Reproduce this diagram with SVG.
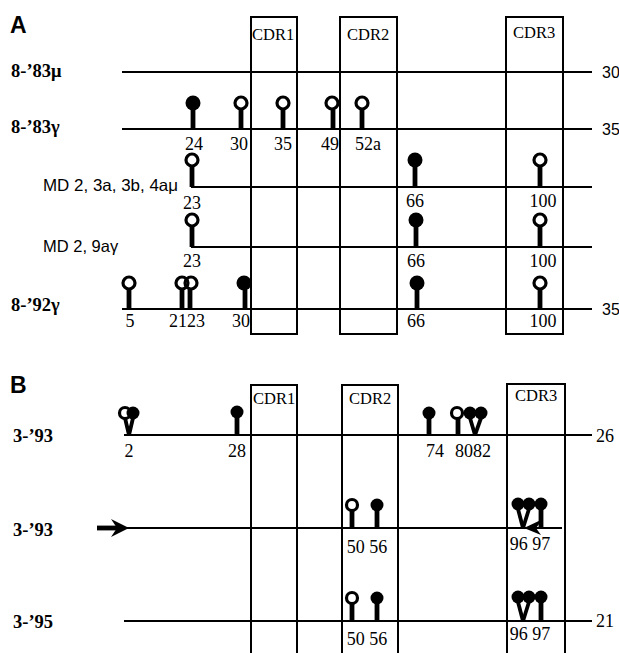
<svg xmlns="http://www.w3.org/2000/svg" width="619" height="653" viewBox="0 0 619 653">
<style>
.ln{stroke:#000;stroke-width:1.8;fill:none}
.box{stroke:#000;stroke-width:2;fill:none}
.st{stroke:#000;stroke-width:4.8;fill:none}
.vs{stroke:#000;stroke-width:3.8;fill:none}
.f{fill:#000}
.o{fill:none;stroke:#000;stroke-width:3.2}
.cdr{font-family:"Liberation Serif",serif;font-size:16.5px}
.num{font-family:"Liberation Serif",serif;font-size:18px;text-anchor:middle}
.lab{font-family:"Liberation Serif",serif;font-size:18.5px;font-weight:bold}
.sans{font-family:"Liberation Sans",sans-serif;font-size:16px}
.md{font-family:"Liberation Sans",sans-serif;font-size:16.5px}
.big{font-family:"Liberation Sans",sans-serif;font-size:23px;font-weight:bold}
</style>
<rect width="619" height="653" fill="#fff"/>
<!-- Panel A -->
<g id="panelA">
<text class="big" x="10" y="33">A</text>
<g id="A-cdr1"><rect class="box" x="251" y="17" width="46" height="317"/><text class="cdr" x="252" y="40">CDR1</text></g>
<g id="A-cdr2"><rect class="box" x="340" y="17" width="57" height="317"/><text class="cdr" x="347" y="40">CDR2</text></g>
<g id="A-cdr3"><rect class="box" x="506" y="17" width="57" height="317"/><text class="cdr" x="513" y="38">CDR3</text></g>

<g id="A-row1">
<text class="lab" x="11" y="77">8-’83μ</text>
<line class="ln" x1="122" y1="72" x2="592" y2="72"/>
<text class="sans" x="602" y="78">30</text>
</g>

<g id="A-row2">
<text class="lab" x="11" y="133">8-’83γ</text>
<line class="ln" x1="122" y1="129" x2="592" y2="129"/>
<text class="sans" x="602" y="135">35</text>
<line class="st" x1="193" y1="129" x2="193" y2="110"/><circle class="f" cx="193" cy="103" r="7.5"/>
<line class="st" x1="241" y1="129" x2="241" y2="110"/><circle class="o" cx="241" cy="103" r="6"/>
<line class="st" x1="283" y1="129" x2="283" y2="110"/><circle class="o" cx="283" cy="103" r="6"/>
<line class="st" x1="333" y1="129" x2="333" y2="110"/><circle class="o" cx="332" cy="103" r="6"/>
<line class="st" x1="362" y1="129" x2="362" y2="110"/><circle class="o" cx="362" cy="103" r="6"/>
<text class="num" x="194" y="150">24</text>
<text class="num" x="239" y="150">30</text>
<text class="num" x="283" y="150">35</text>
<text class="num" x="330" y="150">49</text>
<text class="num" x="368" y="150">52a</text>
</g>

<g id="A-row3">
<text class="md" x="43" y="191" textLength="135" lengthAdjust="spacingAndGlyphs">MD 2, 3a, 3b, 4aμ</text>
<line class="ln" x1="191" y1="187" x2="592" y2="187"/>
<line class="st" x1="192" y1="187" x2="192" y2="167"/><circle class="o" cx="192" cy="160" r="6"/>
<line class="st" x1="415" y1="187" x2="415" y2="167"/><circle class="f" cx="415" cy="160" r="7.5"/>
<line class="st" x1="540" y1="187" x2="540" y2="167"/><circle class="o" cx="540" cy="160" r="6"/>
<text class="num" x="192" y="209">23</text>
<text class="num" x="415" y="207">66</text>
<text class="num" x="543" y="207">100</text>
</g>

<g id="A-row4">
<text class="md" x="43" y="252">MD 2, 9aγ</text>
<line class="ln" x1="191" y1="247" x2="592" y2="247"/>
<line class="st" x1="192" y1="247" x2="192" y2="227"/><circle class="o" cx="192" cy="220" r="6"/>
<line class="st" x1="416" y1="247" x2="416" y2="227"/><circle class="f" cx="416" cy="220" r="7.5"/>
<line class="st" x1="540" y1="247" x2="540" y2="227"/><circle class="o" cx="540" cy="220" r="6"/>
<text class="num" x="192" y="267">23</text>
<text class="num" x="416" y="267">66</text>
<text class="num" x="543" y="267">100</text>
</g>

<g id="A-row5">
<text class="lab" x="11" y="311">8-’92γ</text>
<line class="ln" x1="122" y1="309" x2="592" y2="309"/>
<text class="sans" x="602" y="315">35</text>
<line class="st" x1="129" y1="309" x2="129" y2="290"/><circle class="o" cx="129" cy="283" r="6"/>
<line class="st" x1="182" y1="309" x2="182" y2="290"/><circle class="o" cx="182" cy="283" r="6"/>
<line class="st" x1="190" y1="309" x2="190" y2="290"/><circle class="o" cx="191" cy="283" r="6"/>
<line class="st" x1="245" y1="309" x2="245" y2="290"/><circle class="f" cx="244" cy="283" r="7.5"/>
<line class="st" x1="417" y1="309" x2="417" y2="290"/><circle class="f" cx="417" cy="283" r="7.5"/>
<line class="st" x1="540" y1="309" x2="540" y2="290"/><circle class="o" cx="540" cy="283" r="6"/>
<text class="num" x="130" y="327">5</text>
<text class="num" x="187" y="327">2123</text>
<text class="num" x="241" y="327">30</text>
<text class="num" x="416" y="327">66</text>
<text class="num" x="543" y="327">100</text>
</g>
</g>

<!-- Panel B -->
<g id="panelB">
<text class="big" x="10" y="393">B</text>
<g id="B-cdr1"><rect class="box" x="251" y="385" width="46" height="280"/><text class="cdr" x="253" y="404">CDR1</text></g>
<g id="B-cdr2"><rect class="box" x="342" y="385" width="56" height="280"/><text class="cdr" x="349" y="404">CDR2</text></g>
<g id="B-cdr3"><rect class="box" x="507" y="384" width="58" height="280"/><text class="cdr" x="515" y="401">CDR3</text></g>

<g id="B-row1">
<text class="lab" x="13" y="442">3-’93</text>
<line class="ln" x1="124" y1="435" x2="592" y2="435"/>
<text class="num" x="605" y="442">26</text>
<line class="vs" x1="125" y1="418" x2="129" y2="435"/><line class="vs" x1="133" y1="418" x2="129" y2="435"/>
<circle class="o" cx="125" cy="413" r="5.5"/><circle class="f" cx="133" cy="413" r="6.5"/>
<line class="st" x1="237" y1="435" x2="237" y2="418"/><circle class="f" cx="237" cy="412" r="6.5"/>
<line class="st" x1="429" y1="435" x2="429" y2="418"/><circle class="f" cx="429" cy="413" r="6.5"/>
<line class="st" x1="458" y1="435" x2="458" y2="418"/><circle class="o" cx="457" cy="413" r="5.5"/>
<line class="vs" x1="470" y1="418" x2="475" y2="435"/><line class="vs" x1="481" y1="418" x2="475" y2="435"/>
<circle class="f" cx="470" cy="413" r="6.5"/><circle class="f" cx="481" cy="413" r="6.5"/>
<text class="num" x="129" y="457">2</text>
<text class="num" x="237" y="457">28</text>
<text class="num" x="435" y="457">74</text>
<text class="num" x="473" y="457">8082</text>
</g>

<g id="B-row2">
<text class="lab" x="13" y="536">3-’93</text>
<line class="st" x1="97" y1="528" x2="118" y2="528"/>
<polygon class="f" points="129,528 111,519 117,528 111,537"/>
<line class="ln" x1="124" y1="528" x2="562" y2="528"/>
<line class="st" x1="352" y1="528" x2="352" y2="511"/><circle class="o" cx="352" cy="505" r="5.5"/>
<line class="st" x1="377" y1="528" x2="377" y2="511"/><circle class="f" cx="377" cy="505" r="6.5"/>
<line class="vs" x1="518" y1="509" x2="523" y2="528"/><line class="vs" x1="529" y1="509" x2="523" y2="528"/>
<line class="st" x1="541" y1="528" x2="541" y2="509"/>
<circle class="f" cx="518" cy="504" r="6.5"/><circle class="f" cx="529" cy="504" r="6.5"/><circle class="f" cx="541" cy="504" r="6.5"/>
<polygon class="f" points="524,528 543,519 536,528 541,535"/>
<text class="num" x="367" y="553">50 56</text>
<text class="num" x="530" y="550">96 97</text>
</g>

<g id="B-row3">
<text class="lab" x="13" y="628">3-’95</text>
<line class="ln" x1="124" y1="621" x2="592" y2="621"/>
<text class="num" x="605" y="627">21</text>
<line class="st" x1="352" y1="621" x2="352" y2="604"/><circle class="o" cx="352" cy="598" r="5.5"/>
<line class="st" x1="377" y1="621" x2="377" y2="604"/><circle class="f" cx="377" cy="598" r="6.5"/>
<line class="vs" x1="518" y1="602" x2="523" y2="621"/><line class="vs" x1="529" y1="602" x2="523" y2="621"/>
<line class="st" x1="541" y1="621" x2="541" y2="602"/>
<circle class="f" cx="518" cy="597" r="6.5"/><circle class="f" cx="529" cy="597" r="6.5"/><circle class="f" cx="541" cy="597" r="6.5"/>
<text class="num" x="367" y="645">50 56</text>
<text class="num" x="530" y="640">96 97</text>
</g>
</g>
</svg>
